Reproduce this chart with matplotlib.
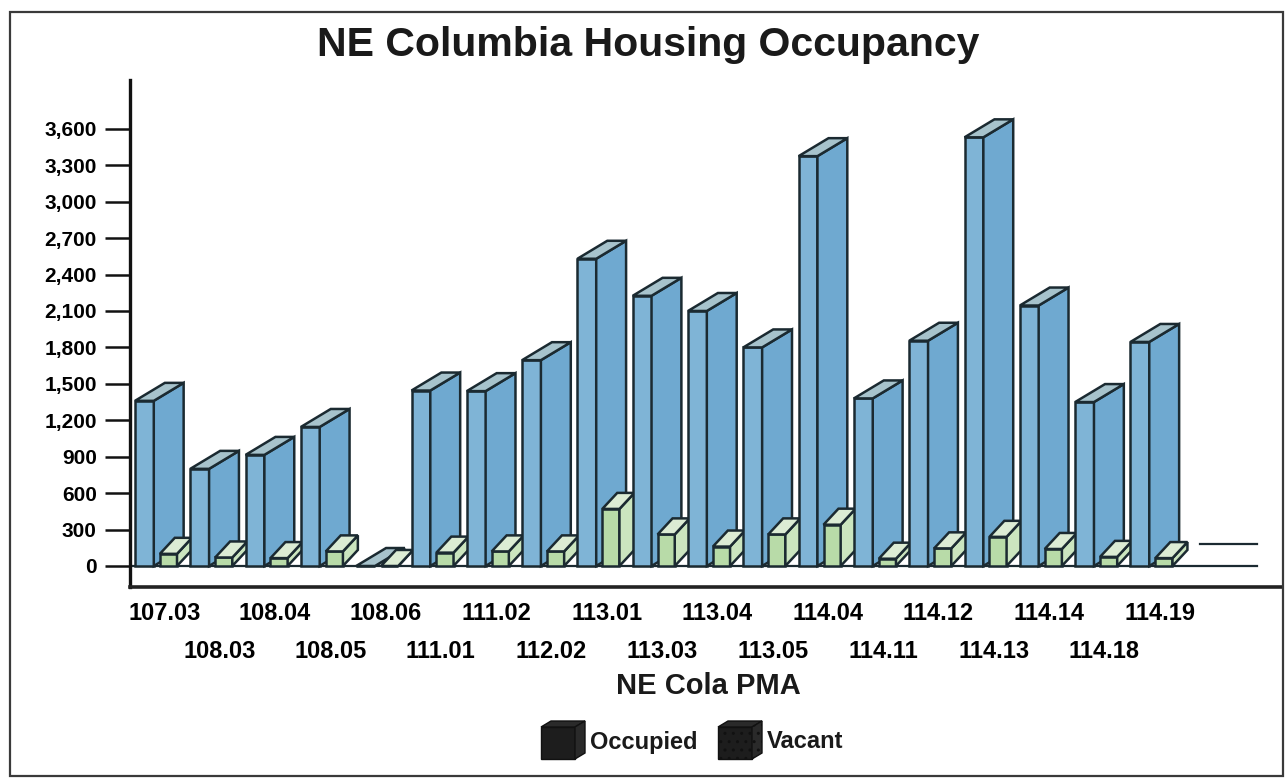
import numpy as np
import matplotlib
matplotlib.use('Agg')
import matplotlib.pyplot as plt
from matplotlib.patches import Polygon, Rectangle

# census tracts in the NE Cola PMA
tracts = ['107.03', '108.03', '108.04', '108.05', '108.06', '111.01', '111.02',
          '112.02', '113.01', '113.03', '113.04', '113.05', '114.04', '114.11',
          '114.12', '114.13', '114.14', '114.18', '114.19']
occupied = [1360, 800, 915, 1145, 0, 1445, 1440, 1695, 2530, 2225, 2100, 1800,
            3375, 1380, 1855, 3530, 2145, 1350, 1845]
vacant = [100, 70, 65, 120, 0, 110, 120, 120, 470, 260, 160, 260, 340, 60,
          145, 240, 140, 75, 65]
yticks = list(range(0, 3601, 300))

plt.rcParams['font.family'] = ['Liberation Sans', 'DejaVu Sans']
plt.rcParams['font.weight'] = 'bold'

W, H = 1286, 780
fig = plt.figure(figsize=(W / 100, H / 100), dpi=100)

# axes placed in pixel terms of the scan
ax = fig.add_axes([130 / W, 1 - 587 / H, (1282 - 130) / W, (587 - 80) / H])
ax.set_xlim(-0.09, 20.74)
ax.set_ylim(-173, 4002)

ec = '#1b2a31'
lw = 1.8

def box(x0, w, h, dx, dy, cols, z):
    front, side, top = cols
    ax.bar(x0, h, width=w, align='edge', color=front, edgecolor=ec, lw=lw, zorder=z)
    ax.add_patch(Polygon([(x0 + w, 0), (x0 + w + dx, dy), (x0 + w + dx, h + dy), (x0 + w, h)],
                         closed=True, fc=side, ec=ec, lw=lw, zorder=z))
    ax.add_patch(Polygon([(x0, h), (x0 + w, h), (x0 + w + dx, h + dy), (x0 + dx, h + dy)],
                         closed=True, fc=top, ec=ec, lw=lw, zorder=z))

blue = ('#7fb4d6', '#6fa9d0', '#a7c3cc')
green = ('#b8dba8', '#cbe5bf', '#dcecd4')

n = len(tracts)
x = np.arange(n)
for i in range(n):
    box(x[i], 0.34, occupied[i], 0.54, 148, blue, 3 + i * 0.1)
    box(x[i] + 0.45, 0.31, vacant[i], 0.27, 132, green, 3.05 + i * 0.1)

# floor edges
ax.plot([-0.09, 20.29], [0, 0], color=ec, lw=1.6, zorder=2)
ax.plot([n + 0.26, 20.29], [181, 181], color=ec, lw=1.6, zorder=2)

for s in ['top', 'right']:
    ax.spines[s].set_visible(False)
ax.spines['left'].set_linewidth(2.4)
ax.spines['bottom'].set_linewidth(2.6)
ax.spines['left'].set_color('#111111')
ax.spines['bottom'].set_color('#222222')

ax.set_yticks(yticks)
ax.set_yticklabels([f'{v:,}' for v in yticks])
ax.tick_params(axis='y', length=18, width=1.8, pad=6, labelsize=15, color='#111111')

ax.set_xticks(x[::2] + 0.53)
ax.set_xticklabels(tracts[::2])
ax.set_xticks(x[1::2] + 0.53, minor=True)
ax.set_xticklabels(tracts[1::2], minor=True)
ax.tick_params(axis='x', which='major', length=0, pad=11, labelsize=17)
ax.tick_params(axis='x', which='minor', length=0, pad=38, labelsize=17)

fig.text(648 / W, 1 - 45 / H, 'NE Columbia Housing Occupancy', ha='center', va='center',
         fontsize=29.5, fontweight='bold', color='#1a1a1a')
fig.text(708 / W, 1 - 686 / H, 'NE Cola PMA', ha='center', va='center',
         fontsize=21, fontweight='bold', color='#1a1a1a')

# legend with cube icons, drawn on a pixel overlay
ov = fig.add_axes([0, 0, 1, 1], zorder=10)
ov.set_xlim(0, W)
ov.set_ylim(H, 0)
ov.axis('off')

def cube(x0, y0, hatch=None):
    ov.add_patch(Polygon([(x0, y0 + 6), (x0 + 34, y0 + 6), (x0 + 34, y0 + 38), (x0, y0 + 38)],
                         fc='#1d1d1d', ec='#111111', lw=1, hatch=hatch))
    ov.add_patch(Polygon([(x0, y0 + 6), (x0 + 10, y0), (x0 + 44, y0), (x0 + 34, y0 + 6)],
                         fc='#2a2a2a', ec='#111111', lw=1))
    ov.add_patch(Polygon([(x0 + 34, y0 + 6), (x0 + 44, y0), (x0 + 44, y0 + 32), (x0 + 34, y0 + 38)],
                         fc='#2a2a2a', ec='#111111', lw=1, hatch=hatch))

plt.rcParams['hatch.color'] = '#d0d0d0'
cube(541, 721)
cube(718, 721, hatch='..')
ov.text(590, 742, 'Occupied', ha='left', va='center', fontsize=17, fontweight='bold', color='#1a1a1a')
ov.text(767, 742, 'Vacant', ha='left', va='center', fontsize=17, fontweight='bold', color='#1a1a1a')

# scanned page frame
ov.add_patch(Rectangle((10, 12), 1273, 764, fill=False, ec='#3a3a3a', lw=1.6))

fig.savefig('out.png', dpi=100)
